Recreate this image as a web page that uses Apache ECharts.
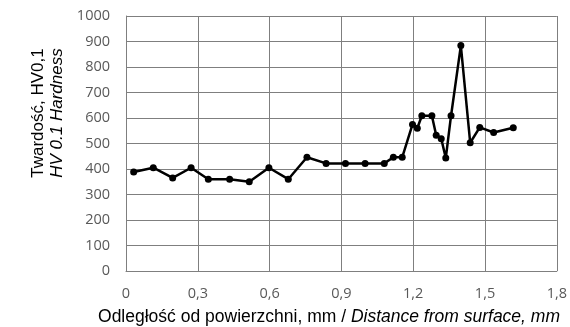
<!DOCTYPE html>
<html>
<head>
<meta charset="utf-8">
<script src="https://cdn.jsdelivr.net/npm/echarts@6/dist/echarts.min.js"></script>
<style>
  html, body { margin: 0; padding: 0; background: #fff; }
  #chart { width: 570px; height: 327px; }
</style>
</head>
<body>
<div id="chart"></div>
<script>
// odległość od powierzchni [mm]
let distance = [0.032, 0.114, 0.195, 0.272, 0.344, 0.433, 0.515, 0.597, 0.678, 0.756,
  0.836, 0.917, 0.999, 1.079, 1.117, 1.154, 1.197, 1.217, 1.236, 1.278,
  1.296, 1.317, 1.336, 1.358, 1.399, 1.438, 1.478, 1.536, 1.618];
// twardość HV0,1
let hardness = [388, 405, 365, 405, 360, 360, 350, 405, 360, 446,
  422, 422, 422, 422, 446, 446, 575, 560, 609, 609,
  532, 519, 443, 609, 884, 503, 563, 543, 562];
let xTicks = [0, 0.3, 0.6, 0.9, 1.2, 1.5, 1.8];
let yTicks = [0, 100, 200, 300, 400, 500, 600, 700, 800, 900, 1000];

let chart = echarts.init(document.getElementById('chart'));
let gridColor = '#7f7f7f';

chart.setOption({
  animation: false,
  grid: { left: 126, right: 12, top: 16, bottom: 56 },
  xAxis: {
    type: 'value',
    min: xTicks[0],
    max: xTicks[xTicks.length - 1],
    interval: 0.3,
    axisLine: { show: true, lineStyle: { color: gridColor, width: 1 } },
    axisTick: { show: false },
    splitLine: { show: true, lineStyle: { color: gridColor, width: 1 } },
    axisLabel: {
      color: '#595959', fontSize: 14.5, fontFamily: 'Open Sans', margin: 15,
      formatter: v => String(+v.toFixed(1)).replace('.', ',')
    }
  },
  yAxis: {
    type: 'value',
    min: yTicks[0],
    max: yTicks[yTicks.length - 1],
    interval: 100,
    axisLine: { show: true, lineStyle: { color: gridColor, width: 1 } },
    axisTick: { show: false },
    splitLine: { show: true, lineStyle: { color: gridColor, width: 1 } },
    axisLabel: {
      color: '#595959', fontSize: 14.5, fontFamily: 'Open Sans', margin: 16,
      formatter: v => String(v)
    }
  },
  graphic: [
    {
      type: 'text', x: 38, y: 113, rotation: Math.PI / 2,
      style: {
        text: 'Twardość, HV0,1', fill: '#000', font: '17px "Liberation Sans"',
        align: 'center', verticalAlign: 'middle'
      }
    },
    {
      type: 'text', x: 57, y: 113, rotation: Math.PI / 2,
      style: {
        text: 'HV 0.1 Hardness', fill: '#000', font: 'italic 17px "Liberation Sans"',
        align: 'center', verticalAlign: 'middle'
      }
    },
    {
      type: 'text', x: 329, y: 317,
      style: {
        text: '{a|Odległość od powierzchni, mm / }{b|Distance from surface, mm}',
        align: 'center', verticalAlign: 'middle',
        rich: {
          a: { fontSize: 17.5, fontFamily: 'Liberation Sans', fill: '#000' },
          b: { fontSize: 17.5, fontFamily: 'Liberation Sans', fontStyle: 'italic', fill: '#000' }
        }
      }
    }
  ],
  series: [{
    type: 'line',
    data: distance.map((d, i) => [d, hardness[i]]),
    symbol: 'circle',
    symbolSize: 7,
    lineStyle: { color: '#000', width: 2.5 },
    itemStyle: { color: '#000' }
  }]
});
</script>
</body>
</html>
